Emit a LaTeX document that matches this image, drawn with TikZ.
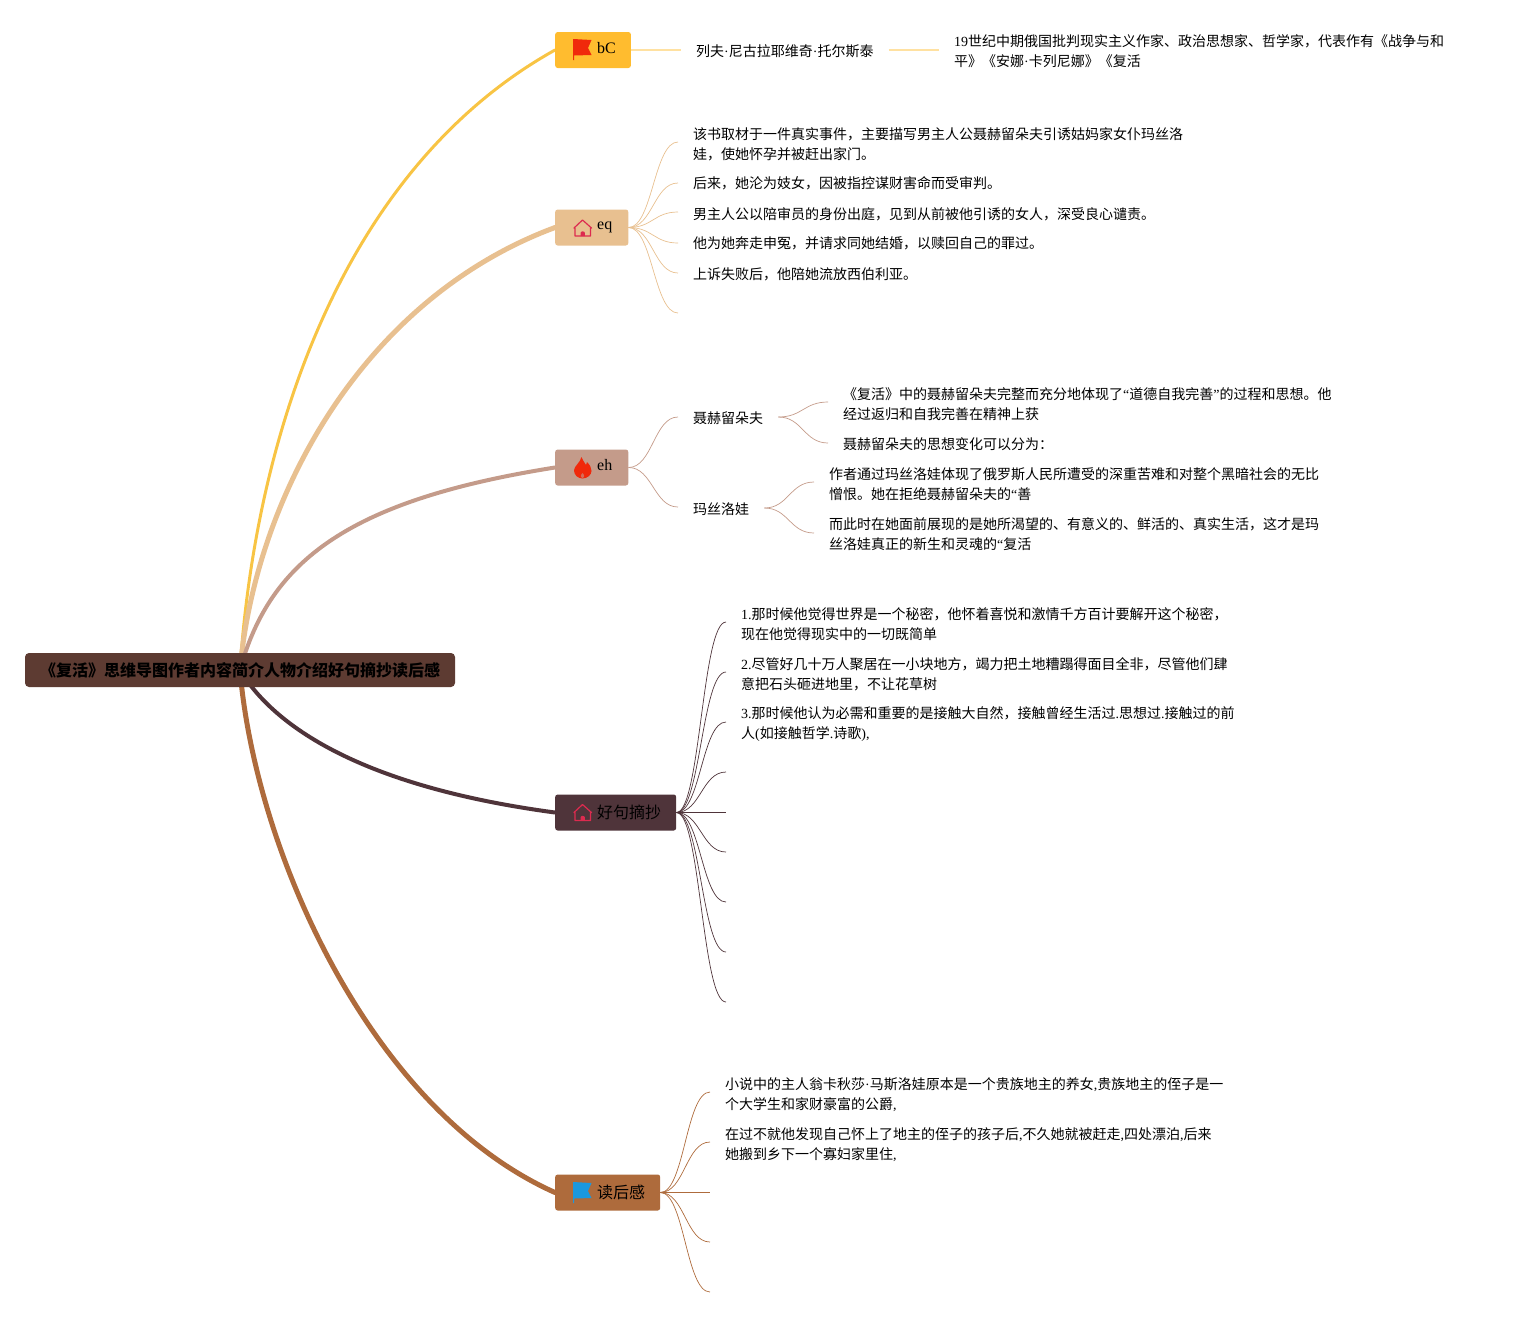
\documentclass[tikz,border=0pt]{standalone}
\usepackage{fontspec}
\setmainfont{Noto Sans CJK SC}
\newfontfamily\lat{Liberation Serif}
\usetikzlibrary{backgrounds}
\definecolor{rootc}{HTML}{5D3B32}
\definecolor{bcc}{HTML}{FFBC2F}
\definecolor{bcl}{HTML}{F8C444}
\definecolor{eqc}{HTML}{E8C090}
\definecolor{ehc}{HTML}{C49B8A}
\definecolor{hjc}{HTML}{4F343A}
\definecolor{dhc}{HTML}{AE6B3C}
\definecolor{redi}{HTML}{F0290B}
\definecolor{housei}{HTML}{DC2B4F}
\definecolor{bluei}{HTML}{1B98DF}
\tikzset{
  root/.style={fill=rootc,rounded corners=4pt,minimum width=430pt,minimum height=34pt,inner sep=0pt,font=\fontsize{16}{20}\selectfont\bfseries},
  topic/.style={anchor=west,rounded corners=2.5pt,minimum height=36pt,inner xsep=0pt,inner ysep=0pt,font=\fontsize{16}{20}\selectfont},
  leaf/.style={anchor=west,inner xsep=15pt,inner ysep=0pt,align=left,font=\fontsize{14}{20}\selectfont},
  twig/.style={line width=0.7pt},
  limb/.style={line cap=round}
}
\def\flagicon#1#2#3{\fill[#3,shift={(#1,#2)}] (0,0) -- (18.5,1) -- (15,9) -- (18.5,16) -- (1,16.5) -- (1,21) -- (0,21) -- cycle;}
\def\houseicon#1#2{\begin{scope}[shift={(#1,#2)}]
  \draw[housei,line width=1.2pt,line join=round] (9,0.5) -- (0.5,8.5) -- (1.5,8.5) -- (1.5,16.5) -- (17,16.5) -- (17,8.5) -- (18,8.5) -- cycle;
  \fill[housei] (7,16.5) -- (7,13.5) .. controls (7,11.3) and (11.4,11.3) .. (11.4,13.5) -- (11.4,16.5) -- cycle;
\end{scope}}
\def\fireicon#1#2{\begin{scope}[shift={(#1,#2)}]
  \fill[redi] (7.5,0) .. controls (9,4) and (11,6) .. (12,8) .. controls (12.5,7) and (13,6) .. (13,5) .. controls (16,8) and (17.5,11) .. (17.5,14) .. controls (17.5,18) and (13,21.5) .. (8.5,21.5) .. controls (4,21.5) and (0,18) .. (0,13.5) .. controls (0,9) and (6,6) .. (7.5,0) -- cycle;
  \fill[ehc!60!redi] (8.5,21.5) .. controls (6.5,20.5) and (6,18.5) .. (8.5,16) .. controls (11,18.5) and (10.5,20.5) .. (8.5,21.5) -- cycle;
\end{scope}}

\begin{document}
\begin{tikzpicture}[x=1pt,y=-1pt]
  \useasboundingbox (0,0) rectangle (1514,1318);

  % root and topics
  \node[root] (root) at (240,670) {\raisebox{-1pt}{《复活》思维导图作者内容简介人物介绍好句摘抄读后感}};
  \node[topic,fill=bcc] (bc) at (555,50) {\hspace*{42pt}\raisebox{5pt}{\lat bC}\hspace*{15pt}};
  \node[topic,fill=eqc] (eq) at (555,227.5) {\hspace*{42pt}\raisebox{4pt}{\lat eq}\hspace*{16pt}};
  \node[topic,fill=ehc] (eh) at (555,467.5) {\hspace*{42pt}\raisebox{5pt}{\lat eh}\hspace*{16pt}};
  \node[topic,fill=hjc] (hj) at (555,812.5) {\hspace*{42pt}\raisebox{-1pt}{好句摘抄}\hspace*{15pt}};
  \node[topic,fill=dhc] (dh) at (555,1192.5) {\hspace*{42pt}\raisebox{-1pt}{读后感}\hspace*{15pt}};

  \flagicon{573}{39}{redi}
  \houseicon{573.5}{219.5}
  \fireicon{574}{457}
  \houseicon{573.5}{804}
  \flagicon{573}{1182}{bluei}

  % bC
  \node[leaf] (lev) at (681,51) {列夫{\lat ·}尼古拉耶维奇{\lat ·}托尔斯泰};
  \node[leaf] (levd) at (939,51) {{\lat 19}世纪中期俄国批判现实主义作家、政治思想家、哲学家，代表作有《战争与和\\平》《安娜{\lat ·}卡列尼娜》《复活};

  % eq
  \node[leaf] (eqa) at (678,144) {该书取材于一件真实事件，主要描写男主人公聂赫留朵夫引诱姑妈家女仆玛丝洛\\娃，使她怀孕并被赶出家门。};
  \node[leaf] (eqb) at (678,183) {后来，她沦为妓女，因被指控谋财害命而受审判。};
  \node[leaf] (eqc) at (678,214) {男主人公以陪审员的身份出庭，见到从前被他引诱的女人，深受良心谴责。};
  \node[leaf] (eqd) at (678,243) {他为她奔走申冤，并请求同她结婚，以赎回自己的罪过。};
  \node[leaf] (eqe) at (678,274) {上诉失败后，他陪她流放西伯利亚。};
  \coordinate (eqf) at (678,313);

  % eh
  \node[leaf] (nh) at (678,418) {聂赫留朵夫};
  \node[leaf] (ms) at (678,509) {玛丝洛娃};
  \node[leaf] (nha) at (828,404) {《复活》中的聂赫留朵夫完整而充分地体现了{\lat “}道德自我完善{\lat ”}的过程和思想。他\\经过返归和自我完善在精神上获};
  \node[leaf] (nhb) at (828,444) {聂赫留朵夫的思想变化可以分为：};
  \node[leaf] (msa) at (814,484) {作者通过玛丝洛娃体现了俄罗斯人民所遭受的深重苦难和对整个黑暗社会的无比\\憎恨。她在拒绝聂赫留朵夫的{\lat “}善};
  \node[leaf] (msb) at (814,534) {而此时在她面前展现的是她所渴望的、有意义的、鲜活的、真实生活，这才是玛\\丝洛娃真正的新生和灵魂的{\lat “}复活};

  % hj
  \node[leaf] (hja) at (726,624.5) {{\lat 1.}那时候他觉得世界是一个秘密，他怀着喜悦和激情千方百计要解开这个秘密，\\现在他觉得现实中的一切既简单};
  \node[leaf] (hjb) at (726,674.5) {{\lat 2.}尽管好几十万人聚居在一小块地方，竭力把土地糟蹋得面目全非，尽管他们肆\\意把石头砸进地里，不让花草树};
  \node[leaf] (hjc) at (726,724.5) {{\lat 3.}那时候他认为必需和重要的是接触大自然，接触曾经生活过{\lat .}思想过{\lat .}接触过的前\\人{\lat (}如接触哲学{\lat .}诗歌{\lat ),}};
  \coordinate (hjd) at (726,772);
  \coordinate (hje) at (726,812.5);
  \coordinate (hjf) at (726,852);
  \coordinate (hjg) at (726,902);
  \coordinate (hjh) at (726,952);
  \coordinate (hji) at (726,1002);

  % dh
  \node[leaf] (dha) at (710,1094.5) {小说中的主人翁卡秋莎{\lat ·}马斯洛娃原本是一个贵族地主的养女{\lat ,}贵族地主的侄子是一\\个大学生和家财豪富的公爵{\lat ,}};
  \node[leaf] (dhb) at (710,1145) {在过不就他发现自己怀上了地主的侄子的孩子后{\lat ,}不久她就被赶走{\lat ,}四处漂泊{\lat ,}后来\\她搬到乡下一个寡妇家里住{\lat ,}};
  \coordinate (dhc) at (710,1192.5);
  \coordinate (dhd) at (710,1242);
  \coordinate (dhe) at (710,1292);

  \begin{pgfonlayer}{background}
    \draw[limb,bcl,line width=3pt] (root.center) .. controls (255,440) and (340,170) .. (bc.west);
    \draw[limb,eqc,line width=5pt] (root.center) .. controls (255,500) and (360,300) .. (eq.west);
    \draw[limb,ehc,line width=4pt] (root.center) .. controls (270,560) and (350,500) .. (eh.west);
    \draw[limb,hjc,line width=4pt] (root.center) .. controls (270,720) and (350,785) .. (hj.west);
    \draw[limb,dhc,line width=5pt] (root.center) .. controls (255,850) and (370,1110) .. (dh.west);

    \draw[bcc!45,line width=1.5pt] (bc.east) -- (bc.east -| lev.west);
    \draw[bcc!45,line width=1.5pt] (bc.east -| lev.east) -- (bc.east -| levd.west);

    \foreach \a/\s in {eqa.west/2,eqb.west/0,eqc.west/2,eqd.west/0,eqe.west/1,eqf/0}
      \draw[twig,eqc] (eq.east) .. controls +(24,0) and +(-24,0) .. ([yshift=\s pt]\a);
    \foreach \a/\s in {nh.west/1,ms.west/2}
      \draw[twig,ehc] (eh.east) .. controls +(24,0) and +(-24,0) .. ([yshift=\s pt]\a);
    \foreach \a/\s in {nha.west/2,nhb.west/1}
      \draw[twig,ehc] ([yshift=1pt]nh.east) .. controls +(24,0) and +(-24,0) .. ([yshift=\s pt]\a);
    \foreach \a/\s in {msa.west/2,msb.west/1}
      \draw[twig,ehc] ([yshift=1pt]ms.east) .. controls +(24,0) and +(-24,0) .. ([yshift=\s pt]\a);
    \foreach \a/\s in {hja.west/2.5,hjb.west/2.5,hjc.west/2.5,hjd/0,hje/0,hjf/0,hjg/0,hjh/0,hji/0}
      \draw[twig,hjc] (hj.east) .. controls +(24,0) and +(-24,0) .. ([yshift=\s pt]\a);
    \foreach \a/\s in {dha.west/2.5,dhb.west/3,dhc/0,dhd/0,dhe/0}
      \draw[twig,dhc] (dh.east) .. controls +(24,0) and +(-24,0) .. ([yshift=\s pt]\a);
  \end{pgfonlayer}
\end{tikzpicture}
\end{document}
